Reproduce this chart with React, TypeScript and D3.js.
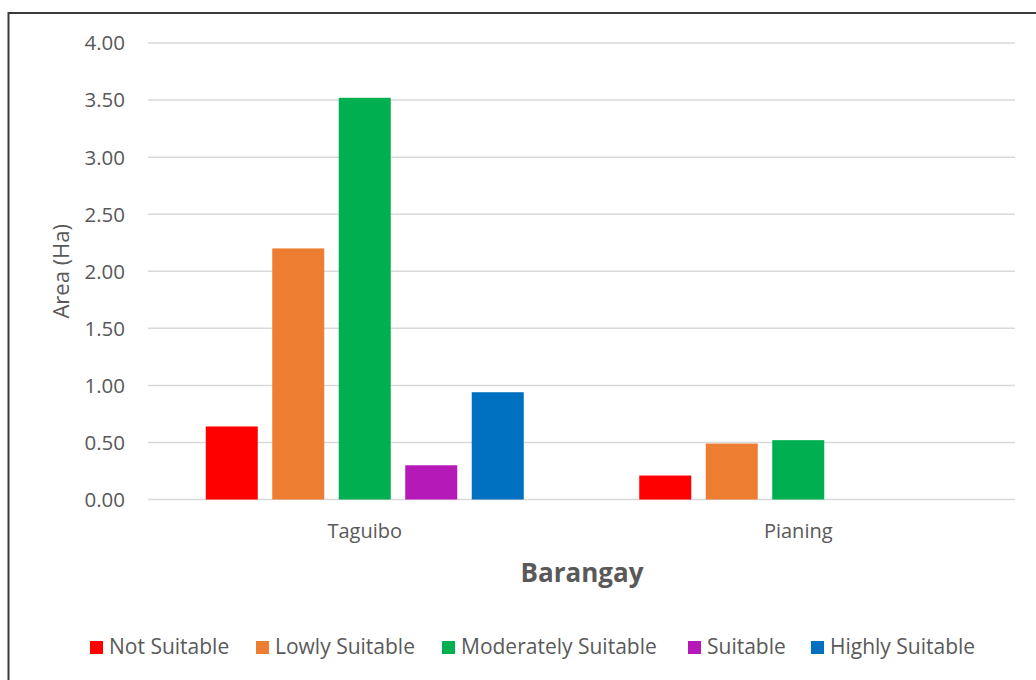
import React from "react";
import * as d3 from "d3";

const barangays = ["Taguibo", "Pianing"];
const classes = ["Not Suitable", "Lowly Suitable", "Moderately Suitable", "Suitable", "Highly Suitable"];
const classColors = ["#FF0000", "#ED7D31", "#00B050", "#B519B8", "#0070C0"];
const taguiboArea = [0.64, 2.2, 3.52, 0.3, 0.94];
const pianingArea = [0.21, 0.49, 0.52, 0, 0];
const yTicks = [0, 0.5, 1, 1.5, 2, 2.5, 3, 3.5, 4];

const W = 1036;
const H = 680;
const FONT = "'Open Sans', 'Noto Sans', sans-serif";
const TEXT = "#595959";

export default function App() {
  const areas = [taguiboArea, pianingArea];
  const plotLeft = 148;
  const plotRight = 1015;
  const x0 = d3.scaleBand<string>().domain(barangays).range([plotLeft, plotRight]);
  const bw = x0.bandwidth();
  const x1 = d3
    .scaleBand<string>()
    .domain(classes)
    .range([(bw - 318) / 2, (bw + 318) / 2])
    .paddingInner(0.218);
  const y = d3.scaleLinear().domain([0, 4]).range([499.5, 43]);
  const fmt = d3.format(".2f");

  // legend item positions (square left edges)
  const legendX = [90, 256, 442, 688, 811];

  return (
    <div style={{ position: "fixed", left: 0, top: 0, width: W, height: H, background: "#fff" }}>
      <svg width={W} height={H} style={{ display: "block" }}>
        <rect x={0} y={0} width={W} height={H} fill="#fff" />
        <rect x={8.5} y={13} width={W + 20} height={H + 20} fill="none" stroke="#3a3a3a" strokeWidth={2} />
        {yTicks.map((t) => (
          <g key={t}>
            <line x1={plotLeft} x2={plotRight} y1={y(t)} y2={y(t)} stroke="#D9D9D9" strokeWidth={1.5} />
            <text x={125} y={y(t)} dy="0.36em" textAnchor="end" fill={TEXT} fontFamily={FONT} fontSize={20.5}>
              {fmt(t)}
            </text>
          </g>
        ))}
        {barangays.map((b, i) => (
          <g key={b} transform={`translate(${x0(b)},0)`}>
            {classes.map((c, j) =>
              areas[i][j] > 0 ? (
                <rect
                  key={c}
                  x={x1(c)}
                  width={x1.bandwidth()}
                  y={y(areas[i][j])}
                  height={y(0) - y(areas[i][j])}
                  fill={classColors[j]}
                />
              ) : null
            )}
            <text x={bw / 2} y={538} textAnchor="middle" fill={TEXT} fontFamily={FONT} fontSize={20}>
              {b}
            </text>
          </g>
        ))}
        <text
          transform={`translate(69,${y(2)}) rotate(-90)`}
          textAnchor="middle"
          fill={TEXT}
          fontFamily={FONT}
          fontSize={22}
        >
          Area (Ha)
        </text>
        <text x={582} y={582} textAnchor="middle" fill={TEXT} fontFamily={FONT} fontSize={26} fontWeight="bold">
          Barangay
        </text>
        {classes.map((c, j) => (
          <g key={c} transform={`translate(${legendX[j]},0)`}>
            <rect x={0} y={641} width={13} height={13} fill={classColors[j]} />
            <text x={19} y={654} fill={TEXT} fontFamily={FONT} fontSize={21}>
              {c}
            </text>
          </g>
        ))}
      </svg>
    </div>
  );
}
